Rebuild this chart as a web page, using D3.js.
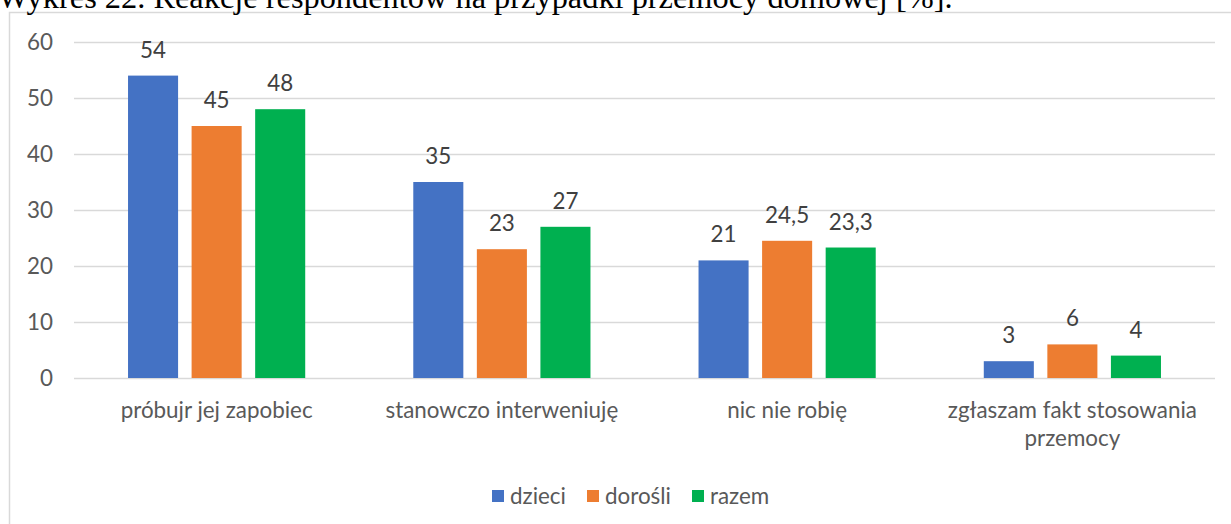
<!DOCTYPE html>
<html><head><meta charset="utf-8">
<script src="https://cdn.jsdelivr.net/npm/d3@7/dist/d3.min.js"></script>
<style>body{margin:0;background:#fff}svg{display:block}</style>
</head><body>
<svg id="c" width="1231" height="524"></svg>
<script>
const title = "Wykres 22. Reakcje respondentów na przypadki przemocy domowej [%].";
const categories = [["próbujr jej zapobiec"], ["stanowczo interweniuję"], ["nic nie robię"], ["zgłaszam fakt stosowania", "przemocy"]];
const seriesNames = ["dzieci", "dorośli", "razem"];
const dzieci = [54, 35, 21, 3];
const dorosli = [45, 23, 24.5, 6];
const razem = [48, 27, 23.3, 4];
const yTicks = [0, 10, 20, 30, 40, 50, 60];
const colors = ["#4472C4", "#ED7D31", "#00B050"];
const values = [dzieci, dorosli, razem];

const svg = d3.select("#c");
const font = "Lato, 'Open Sans', sans-serif";
const fs = 22.4;
const pLeft = 74, pRight = 1215, pTop = 42, pBottom = 378;

// border
svg.append("rect").attr("x", 9.5).attr("y", 12.5).attr("width", 1240).attr("height", 600)
  .attr("fill", "none").attr("stroke", "#d9d9d9").attr("stroke-width", 1.5);

// title
const t = svg.append("text").attr("x", -2).attr("y", 8).attr("font-family", "'Liberation Serif', 'Times New Roman', serif")
  .attr("font-size", 100).attr("fill", "#000").text(title);
const tw = t.node().getComputedTextLength();
t.attr("font-size", 100 * 955 / tw);

const y = d3.scaleLinear().domain([0, 60]).range([pBottom, pTop]);
const x0 = d3.scaleBand().domain(d3.range(categories.length)).range([pLeft, pRight]).paddingInner(0).paddingOuter(0);
const x1 = d3.scaleBand().domain(d3.range(3)).range([0, x0.bandwidth()]).paddingInner(0.2126).paddingOuter(0.85);

// gridlines via axis
const yAxis = d3.axisLeft(y).tickValues(yTicks).tickSize(-(pRight - pLeft)).tickPadding(21).tickFormat(d => d);
const ga = svg.append("g").attr("transform", `translate(${pLeft},0)`).call(yAxis);
ga.select(".domain").remove();
ga.selectAll(".tick line").attr("stroke", "#d9d9d9").attr("stroke-width", 1.5);
ga.selectAll(".tick text").attr("fill", "#595959").attr("font-family", font).attr("font-size", fs);

// bars
values.forEach((vals, s) => {
  const g = svg.append("g");
  g.selectAll("rect").data(vals).join("rect")
    .attr("x", (d, i) => x0(i) + x1(s))
    .attr("width", x1.bandwidth())
    .attr("y", d => y(d))
    .attr("height", d => y(0) - y(d))
    .attr("fill", colors[s]);
  g.selectAll("text").data(vals).join("text")
    .attr("x", (d, i) => x0(i) + x1(s) + x1.bandwidth() / 2)
    .attr("y", d => y(d) - 18)
    .attr("text-anchor", "middle")
    .attr("fill", "#404040").attr("font-family", font).attr("font-size", fs)
    .text(d => String(d).replace(".", ","));
});

// category labels
const cl = svg.append("g");
categories.forEach((lines, i) => {
  const tx = cl.append("text").attr("text-anchor", "middle").attr("fill", "#595959")
    .attr("font-family", font).attr("font-size", fs);
  lines.forEach((ln, j) => {
    tx.append("tspan").attr("x", x0(i) + x0.bandwidth() / 2).attr("y", 418 + j * 28).text(ln);
  });
});

// legend
const legend = svg.append("g");
const lx = [492, 587, 692];
seriesNames.forEach((n, i) => {
  legend.append("rect").attr("x", lx[i]).attr("y", 490).attr("width", 12).attr("height", 12).attr("fill", colors[i]);
  legend.append("text").attr("x", lx[i] + 18).attr("y", 504).attr("fill", "#595959")
    .attr("font-family", font).attr("font-size", fs).text(n);
});
</script>
</body></html>
